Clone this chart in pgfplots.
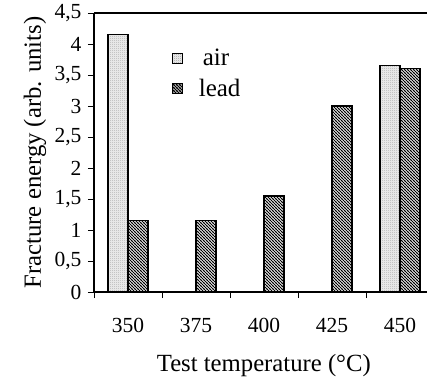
\documentclass[border=0pt]{standalone}
\usepackage{fontspec}
\setmainfont{Liberation Serif}
\usepackage{pgfplots}
\pgfplotsset{compat=1.18}
\usetikzlibrary{patterns}
\pgfdeclarepatternformonly{densenw}{\pgfqpoint{-1pt}{-1pt}}{\pgfqpoint{4pt}{4pt}}{\pgfqpoint{3pt}{3pt}}{%
  \pgfsetlinewidth{1.0pt}%
  \pgfpathmoveto{\pgfqpoint{-0.5pt}{3.5pt}}%
  \pgfpathlineto{\pgfqpoint{3.5pt}{-0.5pt}}%
  \pgfusepath{stroke}}
\pgfdeclarepatternformonly{finedots}{\pgfqpoint{0pt}{0pt}}{\pgfqpoint{2pt}{2pt}}{\pgfqpoint{2pt}{2pt}}{%
  \pgfpathcircle{\pgfqpoint{0.5pt}{0.5pt}}{0.45pt}%
  \pgfpathcircle{\pgfqpoint{1.5pt}{1.5pt}}{0.45pt}%
  \pgfusepath{fill}}
\begin{document}
\begin{tikzpicture}
\begin{axis}[
  name=ax, scale only axis, width=333pt, height=279pt,
  xmin=-0.5, xmax=4.397, ymin=0, ymax=4.5,
  axis x line=box, axis y line=left,
  axis line style={-, line width=1.3pt, black},
  xtick={-0.5,0.5,1.5,2.5,3.5}, xticklabels={350,375,400,425,450},
  xticklabel style={xshift=34pt, yshift=-17pt},
  ytick={0,0.5,...,4.5},
  yticklabel style={xshift=-3pt, /pgf/number format/.cd, use comma, fixed, precision=1},
  /pgf/number format/assume math mode=true,
  tick align=outside, major tick length=6pt,
  xtick pos=bottom, ytick pos=left,
  tick style={black, line width=0.8pt},
  ticklabel style={font=\fontsize{21.5}{25}\selectfont},
  xlabel={Test temperature (°C)},
  ylabel={Fracture energy (arb. units)},
  label style={font=\fontsize{24.7}{29}\selectfont},
  xlabel style={at={(axis description cs:0.51,-0.265)}, anchor=center},
  ylabel style={at={(axis description cs:-0.177,0.5)}, anchor=center},
  legend style={draw=none, fill=none, at={(axis description cs:0.234,0.783)}, anchor=west,
    font=\fontsize{25}{30}\selectfont, row sep=8pt, column sep=14pt, inner sep=0pt},
  legend cell align=left,
]
\addplot[ybar, bar width=20pt, bar shift=-10pt, draw=black, line width=1.3pt, fill=black!7,
  postaction={pattern=finedots, pattern color=black!35},
  legend image code/.code={\draw[draw=black, line width=0.7pt, fill=black!7, postaction={pattern=finedots, pattern color=black!35}] (0pt,-5pt) rectangle (10pt,5pt);}]
  coordinates {(0,4.15) (4,3.65)};
\addlegendentry{\hspace{4pt}air}
\addplot[ybar, bar width=20pt, bar shift=10pt, draw=black, line width=1.3pt, fill=white,
  postaction={pattern=densenw},
  legend image code/.code={\draw[draw=black, line width=0.7pt, fill=white, postaction={pattern=densenw}] (0pt,-5pt) rectangle (10pt,5pt);}]
  coordinates {(0,1.15) (1,1.15) (2,1.55) (3,3.0) (4,3.6)};
\addlegendentry{lead}
\end{axis}
\pgfresetboundingbox
\path[use as bounding box] ([shift={(-94pt,-87pt)}]ax.south west) rectangle ([shift={(0pt,13pt)}]ax.north east);
\end{tikzpicture}
\end{document}
